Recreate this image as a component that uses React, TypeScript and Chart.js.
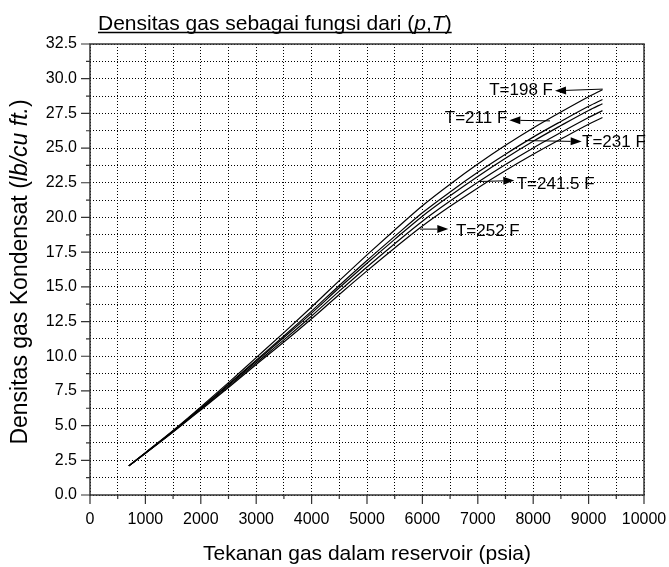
import React, { useEffect, useRef } from "react";
import { Chart, registerables } from "chart.js";

Chart.register(...registerables);

// ---- data ----
const pressure = [700, 1000, 1500, 2000, 2500, 3000, 3500, 4000, 4500, 5000, 5500, 6000, 6500, 7000, 7500, 8000, 8500, 9000, 9250];
const t198 = [2.1, 3.05, 4.65, 6.35, 8.1, 9.9, 11.7, 13.55, 15.45, 17.3, 19.1, 20.85, 22.4, 23.85, 25.2, 26.45, 27.6, 28.7, 29.2];
const t211 = [2.1, 3.03, 4.61, 6.27, 7.98, 9.72, 11.46, 13.25, 15.1, 16.9, 18.64, 20.34, 21.84, 23.25, 24.56, 25.79, 26.92, 28.01, 28.5];
const t231 = [2.1, 3.02, 4.59, 6.24, 7.92, 9.64, 11.35, 13.11, 14.93, 16.7, 18.42, 20.09, 21.57, 22.96, 24.27, 25.49, 26.62, 27.71, 28.2];
const t2415 = [2.1, 3.01, 4.56, 6.18, 7.83, 9.52, 11.18, 12.9, 14.69, 16.43, 18.11, 19.73, 21.18, 22.54, 23.82, 25.01, 26.12, 27.2, 27.7];
const t252 = [2.1, 3.0, 4.53, 6.13, 7.75, 9.4, 11.02, 12.7, 14.45, 16.15, 17.8, 19.38, 20.8, 22.13, 23.38, 24.55, 25.65, 26.72, 27.2];
const seriesLabels = ["T=198 F", "T=211 F", "T=231 F", "T=241.5 F", "T=252 F"];

const xTickLabels = ["0", "1000", "2000", "3000", "4000", "5000", "6000", "7000", "8000", "9000", "10000"];
const yTickLabels = ["0.0", "2.5", "5.0", "7.5", "10.0", "12.5", "15.0", "17.5", "20.0", "22.5", "25.0", "27.5", "30.0", "32.5"];

// annotation anchors (data units)
const annoTail = [[9255, 29.25], [8303, 26.96], [7852, 25.54], [7009, 22.59], [5957, 19.16]];
const annoHead = [[8394, 29.13], [7569, 27.01], [8875, 25.47], [7659, 22.66], [6468, 19.16]];
const annoText = [[8357, 29.13], [7532, 27.16], [8881, 25.38], [7702, 22.42], [6606, 18.98]];
const annoAlign = ["right", "right", "left", "left", "left"];

const chartTitle = [
  { t: "Densitas gas sebagai fungsi dari (", i: false },
  { t: "p", i: true },
  { t: ",", i: false },
  { t: "T", i: true },
  { t: ")", i: false },
];
const yTitle = [
  { t: "Densitas gas Kondensat (", i: false },
  { t: "lb/cu ft.", i: true },
  { t: ")", i: false },
];
const xTitle = "Tekanan gas dalam reservoir (psia)";

const FONT = "'Liberation Sans', Arial, Helvetica, sans-serif";

function isMult(v: number, step: number) {
  const r = v / step;
  return Math.abs(r - Math.round(r)) < 1e-6;
}

function richWidth(ctx: CanvasRenderingContext2D, segs: { t: string; i: boolean }[], size: number) {
  let w = 0;
  for (const s of segs) {
    ctx.font = `${s.i ? "italic " : ""}${size}px ${FONT}`;
    w += ctx.measureText(s.t).width;
  }
  return w;
}

function drawRich(ctx: CanvasRenderingContext2D, segs: { t: string; i: boolean }[], size: number, x: number, y: number) {
  let cx = x;
  for (const s of segs) {
    ctx.font = `${s.i ? "italic " : ""}${size}px ${FONT}`;
    ctx.fillText(s.t, cx, y);
    cx += ctx.measureText(s.t).width;
  }
  return cx;
}

const decorPlugin = {
  id: "decor",
  afterDraw(chart: any) {
    const ctx: CanvasRenderingContext2D = chart.ctx;
    const { left, right, top, bottom } = chart.chartArea;
    const xs = chart.scales.x;
    const ys = chart.scales.y;
    ctx.save();

    // frame
    ctx.strokeStyle = "#333";
    ctx.lineWidth = 1.5;
    ctx.setLineDash([]);
    ctx.strokeRect(left, top, right - left, bottom - top);

    // tick marks
    ctx.lineWidth = 1.2;
    ctx.beginPath();
    for (const t of xs.ticks) {
      const px = xs.getPixelForValue(t.value);
      const len = isMult(t.value, 1000) ? 9 : 4;
      ctx.moveTo(px, bottom);
      ctx.lineTo(px, bottom + len);
    }
    for (const t of ys.ticks) {
      const py = ys.getPixelForValue(t.value);
      const len = isMult(t.value, 2.5) ? 9 : 4;
      ctx.moveTo(left, py);
      ctx.lineTo(left - len, py);
    }
    ctx.stroke();

    ctx.fillStyle = "#000";
    ctx.textBaseline = "alphabetic";

    // chart title
    const titleSize = 21;
    const tx = 98;
    const ty = 29.5;
    ctx.textAlign = "left";
    const endX = drawRich(ctx, chartTitle, titleSize, tx, ty);
    ctx.strokeStyle = "#000";
    ctx.lineWidth = 1.4;
    ctx.beginPath();
    ctx.moveTo(tx, ty + 3);
    ctx.lineTo(endX, ty + 3);
    ctx.stroke();

    // x axis title
    ctx.font = `21px ${FONT}`;
    ctx.textAlign = "center";
    ctx.fillText(xTitle, (left + right) / 2, 560);

    // y axis title (rotated)
    ctx.save();
    ctx.translate(27, 272);
    ctx.rotate(-Math.PI / 2);
    ctx.textAlign = "left";
    const yw = richWidth(ctx, yTitle, 23);
    drawRich(ctx, yTitle, 23, -yw / 2, 0);
    ctx.restore();

    // annotations
    ctx.lineWidth = 1;
    ctx.strokeStyle = "#000";
    for (let k = 0; k < seriesLabels.length; k++) {
      const x1 = xs.getPixelForValue(annoTail[k][0]);
      const y1 = ys.getPixelForValue(annoTail[k][1]);
      const x2 = xs.getPixelForValue(annoHead[k][0]);
      const y2 = ys.getPixelForValue(annoHead[k][1]);
      const ang = Math.atan2(y2 - y1, x2 - x1);
      const hl = 11;
      const hw = 4;
      const bx = x2 - hl * Math.cos(ang);
      const by = y2 - hl * Math.sin(ang);
      ctx.beginPath();
      ctx.moveTo(x1, y1);
      ctx.lineTo(bx, by);
      ctx.stroke();
      ctx.beginPath();
      ctx.moveTo(x2, y2);
      ctx.lineTo(bx + hw * Math.sin(ang), by - hw * Math.cos(ang));
      ctx.lineTo(bx - hw * Math.sin(ang), by + hw * Math.cos(ang));
      ctx.closePath();
      ctx.fill();

      ctx.font = `17px ${FONT}`;
      ctx.textAlign = annoAlign[k] as CanvasTextAlign;
      ctx.textBaseline = "middle";
      ctx.fillText(seriesLabels[k], xs.getPixelForValue(annoText[k][0]), ys.getPixelForValue(annoText[k][1]));
    }
    ctx.restore();
  },
};

export default function App() {
  const ref = useRef<HTMLCanvasElement | null>(null);
  useEffect(() => {
    if (!ref.current) return;
    const series = [t198, t211, t231, t2415, t252];
    const chart = new Chart(ref.current, {
      type: "line",
      data: {
        datasets: series.map((s, k) => ({
          label: seriesLabels[k],
          data: pressure.map((p, i) => ({ x: p, y: s[i] })),
          borderColor: "#000",
          borderWidth: 1.2,
          pointRadius: 0,
          fill: false,
          cubicInterpolationMode: "monotone" as const,
        })),
      },
      options: {
        animation: false,
        responsive: true,
        maintainAspectRatio: false,
        layout: { padding: { left: 0, right: 25, top: 44, bottom: 0 } },
        plugins: { legend: { display: false }, tooltip: { enabled: false }, title: { display: false } },
        scales: {
          x: {
            type: "linear",
            min: 0,
            max: 10000,
            afterFit: (s: any) => {
              s.height = 72;
              s.paddingLeft = 0;
              s.paddingRight = 0;
            },
            grid: { color: "#000", lineWidth: 1, drawTicks: false },
            border: { display: false, dash: [1, 2] },
            ticks: {
              stepSize: 500,
              autoSkip: false,
              maxRotation: 0,
              padding: 15,
              color: "#000",
              font: { family: FONT, size: 16 },
              callback: (v: any) => (isMult(Number(v), 1000) ? xTickLabels[Math.round(Number(v) / 1000)] : ""),
            },
          },
          y: {
            type: "linear",
            min: 0,
            max: 32.5,
            afterFit: (s: any) => {
              s.width = 90;
              s.paddingTop = 0;
              s.paddingBottom = 0;
            },
            grid: { color: "#000", lineWidth: 1, drawTicks: false },
            border: { display: false, dash: [1, 2] },
            ticks: {
              stepSize: 1.25,
              autoSkip: false,
              padding: 13,
              color: "#000",
              font: { family: FONT, size: 16 },
              callback: (v: any) => (isMult(Number(v), 2.5) ? yTickLabels[Math.round(Number(v) / 2.5)] : ""),
            },
          },
        },
      },
      plugins: [decorPlugin],
    });
    return () => chart.destroy();
  }, []);
  return (
    <div style={{ position: "absolute", left: 0, top: 0, width: 669, height: 567, background: "#fff" }}>
      <canvas ref={ref} />
    </div>
  );
}
